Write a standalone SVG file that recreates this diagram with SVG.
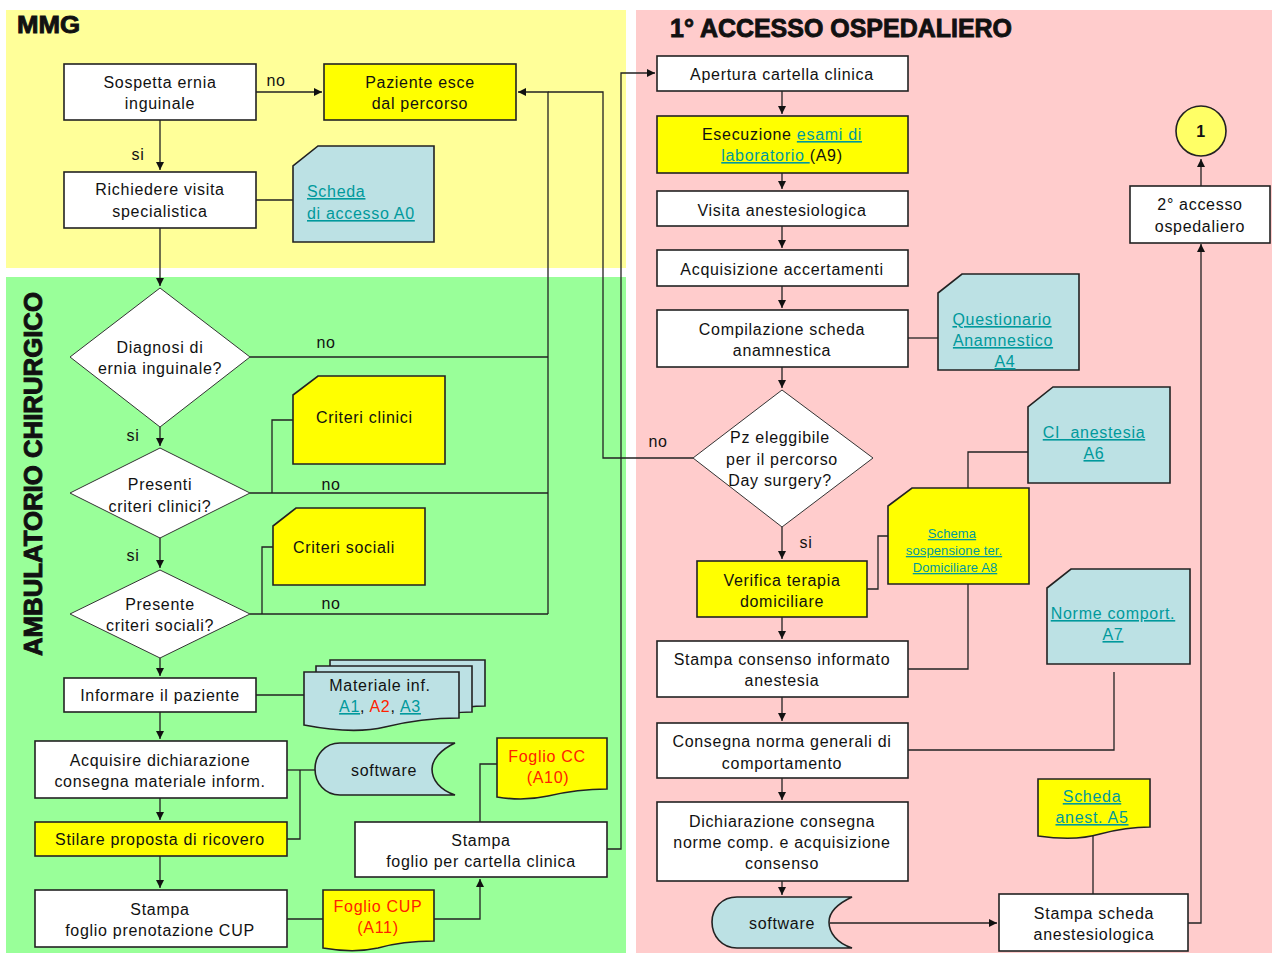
<svg xmlns="http://www.w3.org/2000/svg" width="1272" height="954" viewBox="0 0 1272 954">
<defs>
<marker id="ar" markerUnits="userSpaceOnUse" markerWidth="9" markerHeight="9" refX="8" refY="4" orient="auto"><path d="M0,0 L8,4 L0,8 Z" fill="#111"/></marker>
<style>
text{font-family:"Liberation Sans",Arial,sans-serif;font-size:16px;letter-spacing:0.7px;fill:#111}
.c{text-anchor:middle}
.box{fill:#fff;stroke:#222;stroke-width:1.6}
.yel{fill:#ffff00;stroke:#222;stroke-width:1.6}
.blu{fill:#bce1e4;stroke:#222;stroke-width:1.6}
.dia{fill:#fff;stroke:#333;stroke-width:1}
.ln{fill:none;stroke:#222;stroke-width:1.3}
.arr{fill:none;stroke:#222;stroke-width:1.3;marker-end:url(#ar)}
.lk{fill:#00999c;text-decoration:underline}
.red{fill:#ff2200}
.title{font-weight:bold;letter-spacing:0;stroke:#111;stroke-width:0.9}
.sm{font-size:13px;letter-spacing:0.1px}
</style>
</defs>
<rect x="0" y="0" width="1272" height="954" fill="#fff"/>
<rect x="6" y="10" width="620" height="258" fill="#ffff99"/>
<rect x="6" y="277" width="620" height="676" fill="#99ff99"/>
<rect x="636" y="10" width="636" height="943" fill="#ffcccc"/>
<text class="title" x="17" y="33" textLength="63" lengthAdjust="spacingAndGlyphs" style="font-size:24px">MMG</text>
<text class="title" x="670" y="37" textLength="342" lengthAdjust="spacingAndGlyphs" style="font-size:26px">1° ACCESSO OSPEDALIERO</text>
<text class="title" transform="translate(42,656) rotate(-90)" textLength="364" lengthAdjust="spacingAndGlyphs" style="font-size:26px">AMBULATORIO CHIRURGICO</text>

<g id="connectors">
<path class="arr" d="M256,92 H322"/>
<path class="arr" d="M160,120 V170"/>
<path class="ln" d="M256,200 H293"/>
<path class="arr" d="M160,228 V286"/>
<path class="ln" d="M250,357 H548"/>
<path class="ln" d="M250,493 H548"/>
<path class="ln" d="M250,614 H548"/>
<path class="arr" d="M548,614 V92 H518"/>
<path class="ln" d="M693,458 H603 V92 H548"/>
<path class="arr" d="M607,849 H621 V73 H655"/>
<path class="ln" d="M293,420 H272 V493"/>
<path class="ln" d="M273,547 H262 V614"/>
<path class="arr" d="M160,427 V446"/>
<path class="arr" d="M160,536 V568"/>
<path class="arr" d="M160,658 V676"/>
<path class="ln" d="M256,695 H304"/>
<path class="arr" d="M160,712 V739"/>
<path class="arr" d="M160,798 V820"/>
<path class="arr" d="M160,856 V888"/>
<path class="ln" d="M287,770 H316"/>
<path class="ln" d="M287,839 H300 V770"/>
<path class="ln" d="M287,919 H323"/>
<path class="arr" d="M434,919 H480 V879"/>
<path class="ln" d="M480,822 V764 H497"/>
<path class="arr" d="M782,91 V114"/>
<path class="arr" d="M782,173 V189"/>
<path class="arr" d="M782,226 V248"/>
<path class="arr" d="M782,286 V308"/>
<path class="arr" d="M782,367 V388"/>
<path class="arr" d="M782,527 V559"/>
<path class="arr" d="M782,617 V639"/>
<path class="arr" d="M782,697 V721"/>
<path class="arr" d="M782,778 V800"/>
<path class="arr" d="M782,881 V895"/>
<path class="ln" d="M908,338 H938"/>
<path class="ln" d="M867,589 H878 V536 H888"/>
<path class="ln" d="M968,488 V452 H1028"/>
<path class="ln" d="M968,584 V669 H908"/>
<path class="ln" d="M1114,672 V750 H908"/>
<path class="arr" d="M830,923 H997"/>
<path class="ln" d="M1093,894 V836"/>
<path class="arr" d="M1188,923 H1201 V244"/>
<path class="arr" d="M1201,186 V159"/>
<text x="276" y="86" class="c">no</text>
<text x="138" y="160" class="c">si</text>
<text x="326" y="348" class="c">no</text>
<text x="133" y="441" class="c">si</text>
<text x="331" y="490" class="c">no</text>
<text x="133" y="561" class="c">si</text>
<text x="331" y="609" class="c">no</text>
<text x="658" y="447" class="c">no</text>
<text x="806" y="548" class="c">si</text>
</g>

<g id="n-sospetta"><rect class="box" x="64" y="64" width="192" height="56"/><text class="c" x="160" y="88">Sospetta ernia</text><text class="c" x="160" y="109">inguinale</text></g>
<g id="n-paziente"><rect class="yel" x="324" y="64" width="192" height="56"/><text class="c" x="420" y="88">Paziente esce</text><text class="c" x="420" y="109">dal percorso</text></g>
<g id="n-richiedere"><rect class="box" x="64" y="172" width="192" height="56"/><text class="c" x="160" y="195">Richiedere visita</text><text class="c" x="160" y="217">specialistica</text></g>
<g id="n-scheda-a0"><path class="blu" d="M318,146 H434 V242 H293 V166 Z"/><text class="lk" x="307" y="197">Scheda</text><text class="lk" x="307" y="219">di accesso A0</text></g>
<g id="n-diagnosi"><path class="dia" d="M160,288 L250,357 L160,427 L70,357 Z"/><text class="c" x="160" y="353">Diagnosi di</text><text class="c" x="160" y="374">ernia inguinale?</text></g>
<g id="n-criteri-clinici"><path class="yel" d="M318,376 H445 V464 H293 V395 Z"/><text x="316" y="423">Criteri clinici</text></g>
<g id="n-presenti"><path class="dia" d="M160,448 L250,493 L160,538 L70,493 Z"/><text class="c" x="160" y="490">Presenti</text><text class="c" x="160" y="512">criteri clinici?</text></g>
<g id="n-criteri-sociali"><path class="yel" d="M296,508 H425 V585 H273 V526 Z"/><text x="293" y="553">Criteri sociali</text></g>
<g id="n-presente"><path class="dia" d="M160,570 L250,614 L160,658 L70,614 Z"/><text class="c" x="160" y="610">Presente</text><text class="c" x="160" y="631">criteri sociali?</text></g>
<g id="n-informare"><rect class="box" x="64" y="678" width="192" height="34"/><text class="c" x="160" y="701">Informare il paziente</text></g>
<g id="n-materiale">
<path class="blu" d="M330,660 H485 V706 C470,706 462,708 458,710 L330,710 Z"/>
<path class="blu" d="M316,666 H472 V712 C455,712 440,715 430,718 L316,718 Z"/>
<path class="blu" d="M304,672 H459 V718 C430,718 405,722 385,727 C360,733 330,730 304,725 Z"/>
<text class="c" x="380" y="691">Materiale inf.</text>
<text class="c" x="380" y="712"><tspan class="lk">A1</tspan>, <tspan class="red">A2</tspan>, <tspan class="lk">A3</tspan></text>
</g>
<g id="n-acquisire"><rect class="box" x="35" y="741" width="252" height="57"/><text class="c" x="160" y="766">Acquisire dichiarazione</text><text class="c" x="160" y="787">consegna materiale inform.</text></g>
<g id="n-software1"><path class="blu" d="M340,743 H455 C440,750 432,760 432,769 C432,780 440,790 455,795 H340 C325,795 315,783 315,769 C315,755 325,743 340,743 Z"/><text class="c" x="384" y="776">software</text></g>
<g id="n-stilare"><rect class="yel" x="35" y="822" width="252" height="34"/><text class="c" x="160" y="845">Stilare proposta di ricovero</text></g>
<g id="n-foglio-cc"><path class="yel" d="M497,738 H607 V789 C585,789 565,792 548,796 C530,800 515,800 497,797 Z"/><text class="c red" x="547" y="762">Foglio CC</text><text class="c red" x="548" y="783">(A10)</text></g>
<g id="n-stampa-cartella"><rect class="box" x="355" y="822" width="252" height="55"/><text class="c" x="481" y="846">Stampa</text><text class="c" x="481" y="867">foglio per cartella clinica</text></g>
<g id="n-stampa-cup"><rect class="box" x="35" y="890" width="252" height="57"/><text class="c" x="160" y="915">Stampa</text><text class="c" x="160" y="936">foglio prenotazione CUP</text></g>
<g id="n-foglio-cup"><path class="yel" d="M323,890 H434 V941 C410,941 392,944 378,948 C360,952 340,951 323,948 Z"/><text class="c red" x="378" y="912">Foglio CUP</text><text class="c red" x="378" y="933">(A11)</text></g>

<g id="n-apertura"><rect class="box" x="657" y="56" width="251" height="35"/><text class="c" x="782" y="80">Apertura cartella clinica</text></g>
<g id="n-esecuzione"><rect class="yel" x="657" y="116" width="251" height="57"/><text class="c" x="782" y="140">Esecuzione <tspan class="lk">esami di</tspan></text><text class="c" x="782" y="161"><tspan class="lk">laboratorio </tspan>(A9)</text></g>
<g id="n-visita"><rect class="box" x="657" y="191" width="251" height="35"/><text class="c" x="782" y="216">Visita anestesiologica</text></g>
<g id="n-acquisizione"><rect class="box" x="657" y="250" width="251" height="36"/><text class="c" x="782" y="275">Acquisizione accertamenti</text></g>
<g id="n-compilazione"><rect class="box" x="657" y="310" width="251" height="57"/><text class="c" x="782" y="335">Compilazione scheda</text><text class="c" x="782" y="356">anamnestica</text></g>
<g id="n-questionario"><path class="blu" d="M962,274 H1079 V370 H938 V293 Z"/><text class="c lk" x="1002" y="325">Questionario</text><text class="c lk" x="1003" y="346">Anamnestico</text><text class="c lk" x="1005" y="367">A4</text></g>
<g id="n-pz"><path class="dia" d="M782,390 L873,458 L782,527 L693,458 Z"/><text class="c" x="780" y="443">Pz eleggibile</text><text class="c" x="782" y="465">per il percorso</text><text class="c" x="780" y="486">Day surgery?</text></g>
<g id="n-ci"><path class="blu" d="M1053,387 H1170 V483 H1028 V407 Z"/><text class="c lk" x="1094" y="438">CI&#160; anestesia</text><text class="c lk" x="1094" y="459">A6</text></g>
<g id="n-schema"><path class="yel" d="M912,488 H1029 V584 H888 V506 Z"/><text class="c lk sm" x="952" y="538">Schema</text><text class="c lk sm" x="954" y="555">sospensione ter.</text><text class="c lk sm" x="955" y="572">Domiciliare A8</text></g>
<g id="n-verifica"><rect class="yel" x="697" y="561" width="170" height="56"/><text class="c" x="782" y="586">Verifica terapia</text><text class="c" x="782" y="607">domiciliare</text></g>
<g id="n-norme"><path class="blu" d="M1071,569 H1190 V664 H1047 V588 Z"/><text class="c lk" x="1113" y="619">Norme comport.</text><text class="c lk" x="1113" y="640">A7</text></g>
<g id="n-stampa-consenso"><rect class="box" x="657" y="641" width="251" height="56"/><text class="c" x="782" y="665">Stampa consenso informato</text><text class="c" x="782" y="686">anestesia</text></g>
<g id="n-consegna"><rect class="box" x="657" y="723" width="251" height="55"/><text class="c" x="782" y="747">Consegna norma generali di</text><text class="c" x="782" y="769">comportamento</text></g>
<g id="n-dichiarazione"><rect class="box" x="657" y="802" width="251" height="79"/><text class="c" x="782" y="827">Dichiarazione consegna</text><text class="c" x="782" y="848">norme comp. e acquisizione</text><text class="c" x="782" y="869">consenso</text></g>
<g id="n-software2"><path class="blu" d="M737,897 H852 C837,904 829,913 829,922 C829,933 837,943 852,948 H737 C722,948 712,936 712,922 C712,908 722,897 737,897 Z"/><text class="c" x="782" y="929">software</text></g>
<g id="n-scheda-a5"><path class="yel" d="M1038,779 H1150 V827 C1130,827 1115,830 1100,834 C1080,840 1060,839 1038,836 Z"/><text class="c lk" x="1092" y="802">Scheda</text><text class="c lk" x="1092" y="823">anest. A5</text></g>
<g id="n-stampa-scheda"><rect class="box" x="999" y="894" width="189" height="57"/><text class="c" x="1094" y="919">Stampa scheda</text><text class="c" x="1094" y="940">anestesiologica</text></g>
<g id="n-secondo"><rect class="box" x="1130" y="186" width="140" height="57"/><text class="c" x="1200" y="210">2° accesso</text><text class="c" x="1200" y="232">ospedaliero</text></g>
<g id="n-1"><circle cx="1201" cy="131" r="25" fill="#ffff66" stroke="#222" stroke-width="1.6"/><text class="c" x="1201" y="137" style="font-size:16px;font-weight:bold">1</text></g>
</svg>
